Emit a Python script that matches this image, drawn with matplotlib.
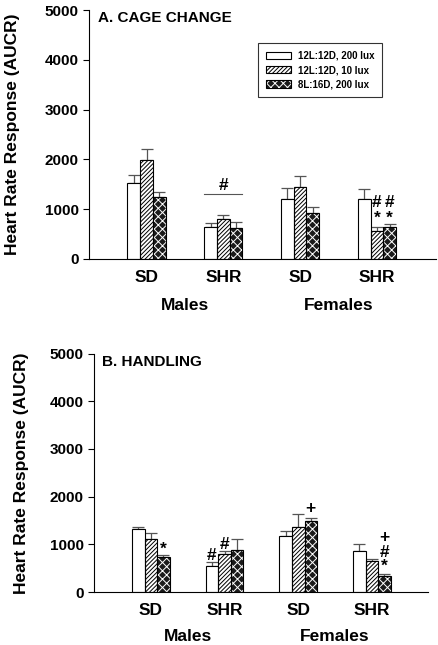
import matplotlib
matplotlib.use("Agg")
import matplotlib.pyplot as plt
from matplotlib.patches import Patch
import numpy as np

plt.rcParams['font.family'] = ['Liberation Sans', 'DejaVu Sans']
plt.rcParams['font.weight'] = 'bold'
plt.rcParams['hatch.linewidth'] = 0.7

# gruplar ve seriler
strains = ['SD', 'SHR', 'SD', 'SHR']
sexes = ['Males', 'Females']
series = ['12L:12D, 200 lux', '12L:12D, 10 lux', '8L:16D, 200 lux']

# A. cage change (ortalama ve SEM, okunarak)
cage_mean = [[1530, 645, 1205, 1200],
             [1990, 805, 1440, 570],
             [1245, 630, 915, 635]]
cage_sem = [[155, 70, 215, 200],
            [210, 80, 225, 80],
            [95, 105, 120, 60]]

# B. handling
hand_mean = [[1315, 555, 1165, 855],
             [1120, 805, 1355, 645],
             [725, 890, 1485, 330]]
hand_sem = [[50, 75, 115, 155],
            [125, 45, 285, 40],
            [45, 230, 70, 55]]

# isaretler: (grup, seri, y, metin)
cage_marks = [(3, 1, 1130, '#'), (3, 2, 1130, '#'),
              (3, 1, 820, '*'), (3, 2, 820, '*')]
cage_group_mark = (1, 1305, 1485, '#')
hand_marks = [(0, 2, 900, '*'), (1, 0, 770, '#'), (1, 1, 995, '#'),
              (2, 2, 1750, '+'), (3, 2, 1135, '+'), (3, 2, 820, '#'),
              (3, 2, 530, '*')]

# dolgu: (yuz rengi, tarama rengi, tarama)
fills = [('white', 'white', ''),
         ('white', 'black', '////////'),
         ('#1a1a1a', 'white', 'xxxx')]


def panel(ax, means, sems, title, marks, width, xlim, lpad):
    x = np.arange(len(strains))
    for i in range(3):
        pos = x + (i - 1) * width
        fc, hc, h = fills[i]
        ax.bar(pos, means[i], width, color=fc, edgecolor=hc, hatch=h,
               linewidth=0, zorder=2)
        ax.bar(pos, means[i], width, fill=False, edgecolor='black',
               linewidth=0.8, zorder=3)
        ax.errorbar(pos, means[i], yerr=[np.zeros(4), sems[i]], fmt='none',
                    ecolor='#555555', elinewidth=0.9, capsize=4.5, capthick=0.9,
                    zorder=1)
    for g, s, y, t in marks:
        ax.text(x[g] + (s - 1) * width, y, t, ha='center', va='center',
                fontsize=12.5, fontweight='bold')
    ax.set_xlim(*xlim)
    ax.set_ylim(0, 5000)
    ax.set_yticks(range(0, 5001, 1000))
    ax.tick_params(axis='y', labelsize=11, length=4, width=0.8)
    ax.set_xticks(x)
    ax.set_xticklabels(strains, fontsize=12.5, fontweight='bold')
    ax.tick_params(axis='x', length=0, pad=8)
    for sp in ['top', 'right']:
        ax.spines[sp].set_visible(False)
    for sp in ['left', 'bottom']:
        ax.spines[sp].set_linewidth(0.8)
    ax.set_ylabel('Heart Rate Response (AUCR)', fontsize=12.5, fontweight='bold',
                  labelpad=lpad)
    ax.text(0.025, 0.995, title, transform=ax.transAxes, ha='left', va='top',
            fontsize=11, fontweight='bold')
    for k, sx in enumerate(sexes):
        ax.text(x[2 * k] + 0.5, -0.185, sx, transform=ax.get_xaxis_transform(),
                ha='center', va='center', fontsize=12.5, fontweight='bold')
    return x


fig = plt.figure(figsize=(4.39, 6.45), dpi=100)
axA = fig.add_axes([89 / 439, 1 - 259 / 645, (436 - 89) / 439, 249 / 645])
axB = fig.add_axes([94 / 439, 1 - 592 / 645, (428 - 94) / 439, 238.5 / 645])

wA = 0.166
xA = panel(axA, cage_mean, cage_sem, 'A. CAGE CHANGE', cage_marks, wA,
           (-0.75, 3.77), 18)
g, yl, yt, t = cage_group_mark
axA.plot([xA[g] - 1.5 * wA, xA[g] + 1.5 * wA], [yl, yl], color='#555555', lw=0.8)
axA.text(xA[g], yt, t, ha='center', va='center', fontsize=12.5, fontweight='bold')

panel(axB, hand_mean, hand_sem, 'B. HANDLING', hand_marks, 0.17, (-0.77, 3.76), 15)

handles = []
for i in range(3):
    fc, hc, h = fills[i]
    handles.append((Patch(facecolor=fc, edgecolor=hc, hatch=h, linewidth=0),
                    Patch(fill=False, edgecolor='black', linewidth=0.8)))
leg = axA.legend(handles=handles, labels=series, loc='upper left',
                 bbox_to_anchor=(258 / 439, 1 - 43 / 645),
                 bbox_transform=fig.transFigure, fontsize=7, frameon=True,
                 fancybox=False, edgecolor='black', handlelength=2.6,
                 handleheight=0.8, labelspacing=0.45, borderpad=0.8,
                 borderaxespad=0, handletextpad=0.7)
leg.get_frame().set_linewidth(0.8)
for txt in leg.get_texts():
    txt.set_fontweight('bold')

fig.savefig('out.png', dpi=100)
